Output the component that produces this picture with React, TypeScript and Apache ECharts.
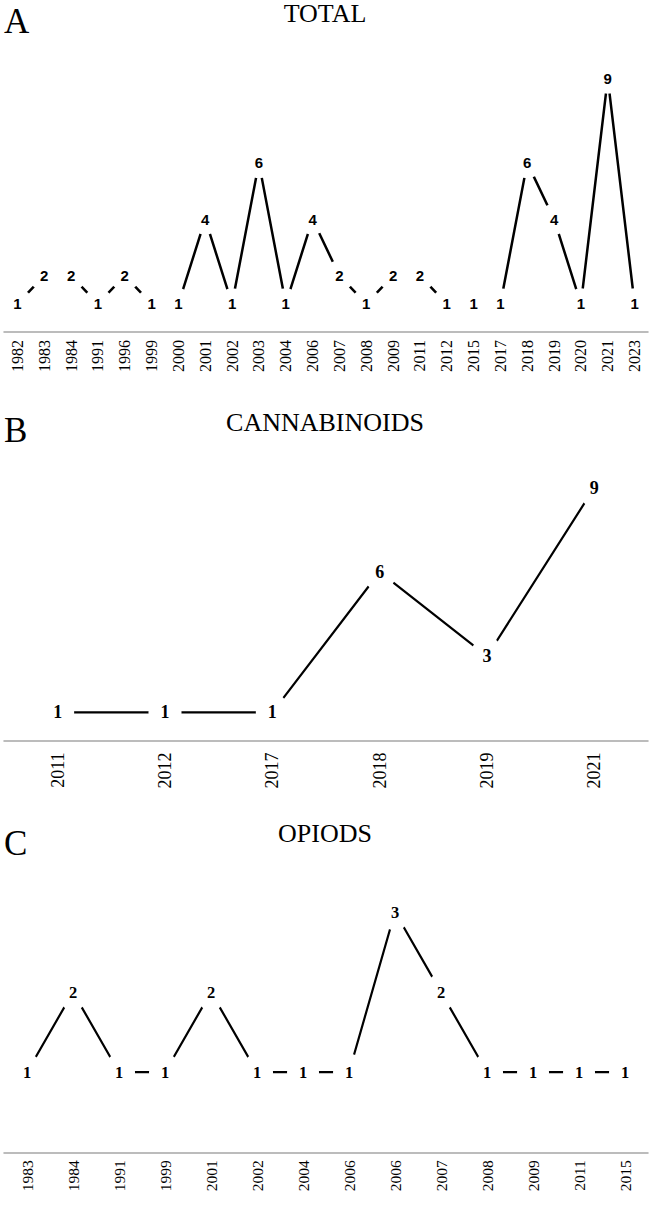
import React, { useEffect, useRef } from "react";
import * as echarts from "echarts";

// ---- data ----
const totalYears = ["1982","1983","1984","1991","1996","1999","2000","2001","2002","2003","2004","2006","2007","2008","2009","2011","2012","2015","2017","2018","2019","2020","2021","2023"];
const totalCounts = [1,2,2,1,2,1,1,4,1,6,1,4,2,1,2,2,1,1,1,6,4,1,9,1];

const cannYears = ["2011","2012","2017","2018","2019","2021"];
const cannCounts = [1,1,1,6,3,9];

const opioYears = ["1983","1984","1991","1999","2001","2002","2004","2006","2006","2007","2008","2009","2011","2015"];
const opioCounts = [1,2,1,1,2,1,1,1,3,2,1,1,1,1];

const panelTitles = ["TOTAL", "CANNABINOIDS", "OPIODS"];
const panelLetters = ["A", "B", "C"];

const SERIF = "'Liberation Serif', 'Times New Roman', serif";
const SANS = "'Liberation Sans', Arial, sans-serif";

export default function App() {
  const ref = useRef<HTMLDivElement>(null);
  useEffect(() => {
    if (!ref.current) return;
    const chart = echarts.init(ref.current, undefined, { renderer: "svg" });

    const grids = [
      { left: 4, width: 644, top: 78.3, height: 253.7 },
      { left: 4, width: 644, top: 487.7, height: 252.8 },
      { left: 4, width: 644, top: 912, height: 240.3 },
    ];
    const cats = [totalYears, cannYears, opioYears];
    const vals = [totalCounts, cannCounts, opioCounts];
    const maxes = [9, 9, 3];
    const labelFonts = [
      { fontFamily: SANS, fontSize: 15 },
      { fontFamily: SERIF, fontSize: 18 },
      { fontFamily: SERIF, fontSize: 16.5 },
    ];
    const axisFonts = [16, 18, 15.5];
    const margins = [8, 12, 8];
    const masks = [[31, 31], [33, 39], [32, 37]];
    const widths = [2.5, 2.2, 2.2];

    const titleY = [13, 422.5, 833.5];
    const letterY = [21, 430, 843];

    const graphic: any[] = [];
    panelTitles.forEach((t, i) => {
      graphic.push({
        type: "text",
        x: 325,
        y: titleY[i],
        style: { text: t, font: `26px ${SERIF}`, fill: "#000", align: "center", verticalAlign: "middle" },
      });
      graphic.push({
        type: "text",
        x: 4,
        y: letterY[i],
        style: { text: panelLetters[i], font: `35px ${SERIF}`, fill: "#000", align: "left", verticalAlign: "middle" },
      });
    });

    chart.setOption({
      animation: false,
      grid: grids,
      graphic,
      xAxis: cats.map((c, i) => ({
        type: "category",
        gridIndex: i,
        data: c,
        boundaryGap: true,
        axisLine: { show: true, lineStyle: { color: "#a6a6a6", width: 1.5 } },
        axisTick: { show: false },
        splitLine: { show: false },
        axisLabel: {
          rotate: 90,
          interval: 0,
          margin: margins[i],
          color: "#000",
          fontFamily: SERIF,
          fontSize: axisFonts[i],
        },
      })),
      yAxis: cats.map((_, i) => ({
        type: "value",
        gridIndex: i,
        min: 0,
        max: maxes[i],
        show: false,
        splitLine: { show: false },
      })),
      series: vals.map((v, i) => ({
        type: "line",
        xAxisIndex: i,
        yAxisIndex: i,
        data: v,
        clip: false,
        silent: true,
        symbol: "circle",
        symbolSize: masks[i],
        showAllSymbol: true,
        itemStyle: { color: "#fff", borderWidth: 0 },
        lineStyle: { color: "#000", width: widths[i] },
        label: {
          show: true,
          position: "inside",
          color: "#000",
          fontWeight: "bold",
          ...labelFonts[i],
        },
        emphasis: { disabled: true },
      })),
    });
    return () => chart.dispose();
  }, []);
  return (
    <div
      ref={ref}
      style={{ position: "absolute", left: 0, top: 0, width: 650, height: 1205, background: "#fff" }}
    />
  );
}
